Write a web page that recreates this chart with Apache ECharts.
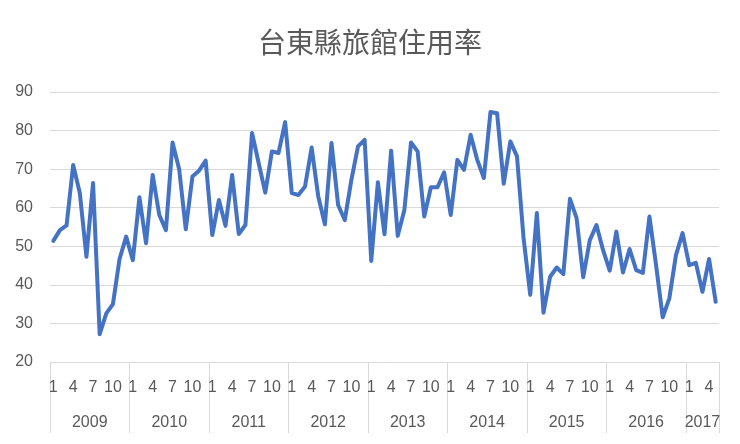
<!DOCTYPE html>
<html><head><meta charset="utf-8">
<script src="https://cdn.jsdelivr.net/npm/echarts@6/dist/echarts.min.js"></script>
<style>html,body{margin:0;padding:0;background:#fff}#c{width:740px;height:444px}</style>
</head><body><div id="c"></div>
<script>
const years = ['2009','2010','2011','2012','2013','2014','2015','2016','2017'];
const rate2009 = [51.4, 54.2, 55.4, 71.1, 63.8, 47.3, 66.4, 27.2, 32.6, 35.0, 46.7, 52.5];
const rate2010 = [46.4, 62.7, 50.8, 68.5, 58.1, 54.2, 76.9, 70.0, 54.4, 68.1, 69.6, 72.2];
const rate2011 = [52.9, 62.0, 55.3, 68.5, 53.2, 55.5, 79.4, 71.6, 63.9, 74.6, 74.2, 82.2];
const rate2012 = [63.8, 63.3, 65.5, 75.6, 62.9, 55.7, 76.8, 60.7, 56.8, 67.2, 75.9, 77.6];
const rate2013 = [46.2, 66.6, 53.1, 74.8, 52.7, 59.4, 76.9, 74.6, 57.7, 65.3, 65.3, 69.2];
const rate2014 = [58.1, 72.4, 69.8, 78.9, 72.4, 67.7, 84.8, 84.5, 66.2, 77.2, 73.3, 52.0];
const rate2015 = [37.4, 58.6, 32.8, 42.1, 44.5, 42.8, 62.3, 57.3, 42.0, 51.6, 55.5, 49.0];
const rate2016 = [43.7, 53.8, 43.2, 49.3, 43.8, 43.1, 57.7, 45.1, 31.6, 36.5, 47.7, 53.4];
const rate2017 = [45.1, 45.7, 38.2, 46.7, 35.6];
const yearRates = [rate2009, rate2010, rate2011, rate2012, rate2013, rate2014, rate2015, rate2016, rate2017];
const monthTicks = [1, 4, 7, 10];
const yTicks = [20, 30, 40, 50, 60, 70, 80, 90];

const categories = [];
const values = [];
yearRates.forEach((arr, yi) => arr.forEach((v, mi) => {
  categories.push(years[yi] + '-' + (mi + 1));
  values.push(v);
}));
const bounds = [0];
const centers = [];
let acc = 0;
yearRates.forEach(arr => { centers.push(acc + arr.length / 2); acc += arr.length; bounds.push(acc); });
const total = acc;

const txt = '#595959';
const grid = '#d9d9d9';
const chart = echarts.init(document.getElementById('c'));
chart.setOption({
  animation: false,
  backgroundColor: '#fff',
  title: {
    text: '台東縣旅館住用率', left: 'center', top: 23,
    textStyle: { fontFamily: 'Noto Sans CJK TC', fontSize: 28, fontWeight: 'normal', color: txt }
  },
  grid: { left: 50, right: 21, top: 92, bottom: 82 },
  xAxis: [
    {
      type: 'category', data: categories, boundaryGap: true,
      axisLine: { show: true, lineStyle: { color: grid } },
      axisTick: { show: false },
      axisLabel: {
        interval: (i, v) => monthTicks.includes(+String(v).split('-')[1]),
        formatter: v => String(v).split('-')[1],
        margin: 18, fontSize: 16, color: txt, fontFamily: 'Liberation Sans'
      }
    },
    {
      type: 'value', min: 0, max: total, position: 'bottom',
      axisLine: { show: false }, splitLine: { show: false },
      axisTick: { show: true, customValues: bounds, length: 71, lineStyle: { color: grid } },
      axisLabel: {
        customValues: centers,
        formatter: v => { const k = centers.findIndex(c => Math.abs(c - v) < 0.01); return k >= 0 ? years[k] : ''; },
        margin: 53, fontSize: 16, color: txt, fontFamily: 'Liberation Sans'
      }
    }
  ],
  yAxis: {
    type: 'value', min: yTicks[0], max: yTicks[yTicks.length - 1], interval: 10,
    axisLine: { show: false }, axisTick: { show: false },
    splitLine: { lineStyle: { color: grid, width: 1 } },
    axisLabel: { margin: 17, fontSize: 16, color: txt, fontFamily: 'Liberation Sans' }
  },
  series: [{
    type: 'line', xAxisIndex: 0, data: values, showSymbol: false, symbol: 'none',
    lineStyle: { color: '#4472C4', width: 4, join: 'round', cap: 'round' }
  }]
});
</script></body></html>
